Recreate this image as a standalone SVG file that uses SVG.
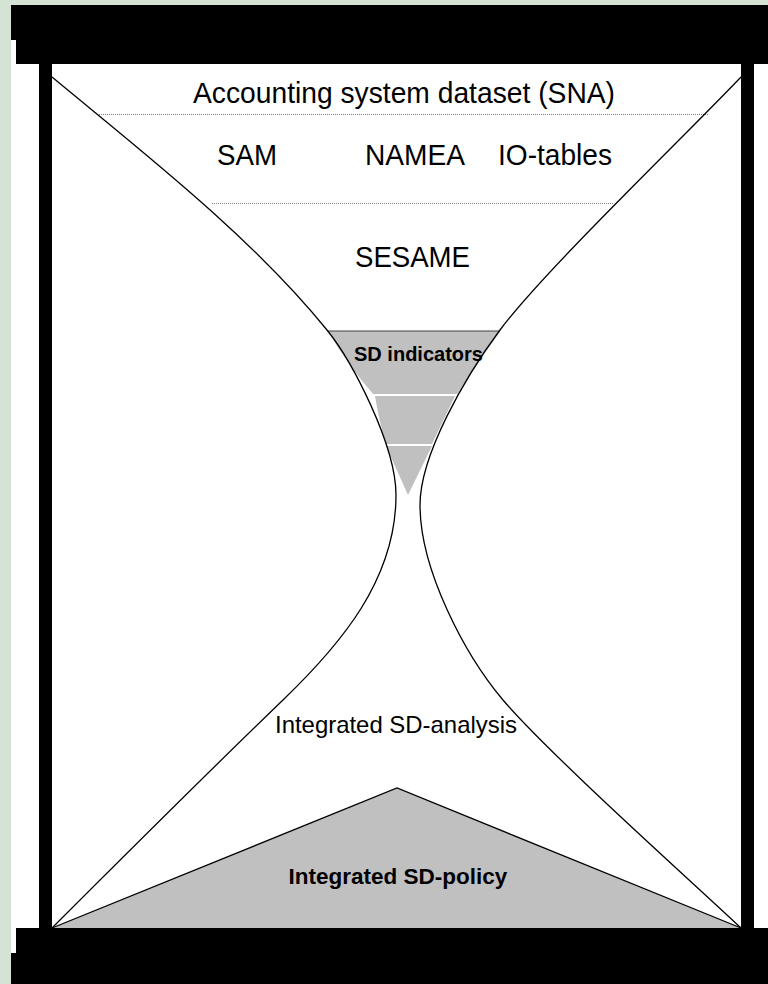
<svg xmlns="http://www.w3.org/2000/svg" width="768" height="984" viewBox="0 0 768 984">
<style>
  .t{font-family:"Liberation Sans",Arial,sans-serif;fill:#000}
  .b{font-weight:bold}
  .curve{fill:none;stroke:#000;stroke-width:1.3}
  .dot{stroke:#808080;stroke-width:1;stroke-dasharray:1 1;fill:none}
  .gray{fill:#c0c0c0}
  .blk{fill:#000}
</style>
<rect width="768" height="984" fill="#d5e3d5"/>
<rect x="11" y="5" width="757" height="979" fill="#fff"/>
<g id="frame">
  <rect class="blk" x="11" y="5" width="757" height="35"/>
  <rect class="blk" x="16" y="5" width="752" height="59"/>
  <rect class="blk" x="16" y="928" width="752" height="56"/>
  <rect class="blk" x="11" y="953" width="757" height="31"/>
  <rect class="blk" x="39" y="60" width="13" height="872"/>
  <rect class="blk" x="741" y="60" width="13" height="872"/>
</g>
<g id="policy-triangle">
  <polygon class="gray" points="52,928 397,788 741,928"/>
  <polyline class="curve" points="52,928 397,788 741,928"/>
</g>
<g id="indicators-funnel">
  <path class="gray" d="M328,331 Q347,364 373,394 L457,394 L500,331 Z"/>
  <path class="gray" d="M375,396 Q379,421 386,444 L432,444 L455,396 Z"/>
  <polygon class="gray" points="386,446 432,446 408,495"/>
  <line x1="328" y1="331" x2="500" y2="331" stroke="#404040" stroke-width="1"/>
</g>
<g id="connectors">
  <line class="dot" x1="99" y1="114.5" x2="708" y2="114.5"/>
  <line class="dot" x1="212" y1="203.5" x2="614" y2="203.5"/>
  <path class="curve" d="M52,77 C140,150 250,235 327,330 C352,361 396,445 396,495 C396,580 340,645 283,700 C230,751 100,880 52,928"/>
  <path class="curve" d="M741,77 C680,141 545,270 500,330 C465,377 420,455 420,505 C420,570 465,655 503,700 C548,753 690,880 741,928"/>
</g>
<g id="label-sna"><text class="t" x="193" y="103" font-size="30" textLength="422" lengthAdjust="spacingAndGlyphs">Accounting system dataset (SNA)</text></g>
<g id="label-sam"><text class="t" x="217" y="165" font-size="30" textLength="60" lengthAdjust="spacingAndGlyphs">SAM</text></g>
<g id="label-namea"><text class="t" x="365" y="165" font-size="30" textLength="100" lengthAdjust="spacingAndGlyphs">NAMEA</text></g>
<g id="label-io"><text class="t" x="498" y="165" font-size="30" textLength="114" lengthAdjust="spacingAndGlyphs">IO-tables</text></g>
<g id="label-sesame"><text class="t" x="355" y="267" font-size="30" textLength="115" lengthAdjust="spacingAndGlyphs">SESAME</text></g>
<g id="label-sd-indicators"><text class="t b" x="354" y="361" font-size="21" textLength="129" lengthAdjust="spacingAndGlyphs">SD indicators</text></g>
<g id="label-analysis"><text class="t" x="275" y="733" font-size="24" textLength="242" lengthAdjust="spacingAndGlyphs">Integrated SD-analysis</text></g>
<g id="label-policy"><text class="t b" x="398" y="884" font-size="22.5" text-anchor="middle">Integrated SD-policy</text></g>
</svg>
